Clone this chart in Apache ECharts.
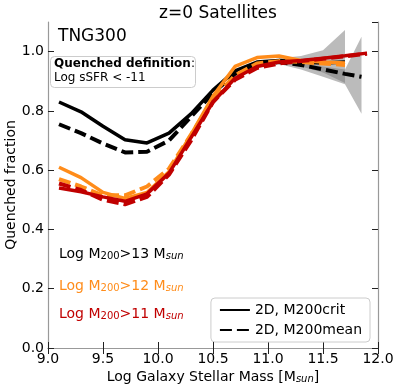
<!DOCTYPE html>
<html>
<head>
<meta charset="utf-8">
<script src="https://cdn.jsdelivr.net/npm/echarts@6/dist/echarts.min.js"></script>
<style>
  html, body { margin: 0; padding: 0; background: #fff; }
  #main { width: 399px; height: 388px; }
</style>
</head>
<body>
<div id="main"></div>
<script>
// stellar mass bins (log Msun)
var massBins = [9.1, 9.3, 9.5, 9.7, 9.9, 10.1, 10.3, 10.5, 10.7, 10.9, 11.1, 11.3, 11.5, 11.7, 11.9];

// quenched fractions
var m13Crit = [0.83, 0.797, 0.748, 0.703, 0.692, 0.725, 0.79, 0.87, 0.935, 0.965, 0.97, 0.965, 0.962, 0.965];
var m13Mean = [0.755, 0.725, 0.69, 0.66, 0.662, 0.70, 0.78, 0.86, 0.925, 0.955, 0.965, 0.955, 0.94, 0.925, 0.915];
var m12Crit = [0.61, 0.575, 0.525, 0.505, 0.525, 0.595, 0.72, 0.85, 0.95, 0.98, 0.985, 0.97, 0.965, 0.962];
var m12Mean = [0.57, 0.545, 0.515, 0.515, 0.545, 0.605, 0.72, 0.84, 0.92, 0.96, 0.968, 0.965, 0.96, 0.955];
var m11Crit = [0.54, 0.527, 0.51, 0.495, 0.52, 0.59, 0.71, 0.83, 0.91, 0.95, 0.965, 0.97, 0.978, 0.986, 0.995];
var m11Mean = [0.555, 0.533, 0.50, 0.485, 0.51, 0.585, 0.70, 0.83, 0.905, 0.945, 0.96, 0.968, 0.976, 0.984, 0.993];

// error bands for the M200>13 lines
var critBandX = [11.1, 11.3, 11.5, 11.7];
var critBandHi = [0.978, 0.985, 1.005, 1.073];
var critBandLo = [0.962, 0.95, 0.93, 0.894];
var meanBandX = [11.1, 11.3, 11.5, 11.7, 11.85];
var meanBandHi = [0.97, 0.962, 0.95, 0.94, 1.05];
var meanBandLo = [0.958, 0.94, 0.915, 0.89, 0.79];

function pairs(ys, xs) {
    xs = xs || massBins;
    return ys.map(function(y, i) { return [xs[i], y]; });
}

function band(xs, hi, lo) {
    return {
        type: 'custom',
        silent: true,
        z: 1,
        data: [0],
        renderItem: function(params, api) {
            var pts = [];
            for (var i = 0; i < xs.length; i++) pts.push(api.coord([xs[i], hi[i]]));
            for (var j = xs.length - 1; j >= 0; j--) pts.push(api.coord([xs[j], lo[j]]));
            return {
                type: 'polygon',
                shape: { points: pts },
                style: { fill: 'rgba(120,120,120,0.5)' }
            };
        }
    };
}

function line(name, ys, color, dashed, xs) {
    return {
        name: name,
        type: 'line',
        data: pairs(ys, xs),
        symbol: 'none',
        z: 3,
        lineStyle: { color: color, width: dashed ? 4 : 3.5, type: dashed ? [12, 5] : 'solid' },
        itemStyle: { color: color }
    };
}

var myChart = echarts.init(document.getElementById('main'));

var font = 'DejaVu Sans';
var orange = '#ff8c1a';
var red = '#c00000';

function massLabel(text, color) {
    return {
        type: 'text',
        left: 59,
        style: {
            text: '{a|Log M}{s|200}{a|' + text + ' M}{i|sun}',
            fill: color,
            rich: {
                a: { fontSize: 14, fontFamily: font, fill: color, lineHeight: 18, verticalAlign: 'bottom' },
                s: { fontSize: 10, fontFamily: font, fill: color, lineHeight: 13, verticalAlign: 'bottom' },
                i: { fontSize: 10, fontFamily: font, fontStyle: 'italic', fill: color, lineHeight: 13, verticalAlign: 'bottom' }
            }
        }
    };
}

var tickStyle = { inside: true, length: 6, lineStyle: { color: '#222' } };
var spine = { lineStyle: { color: '#999', width: 1.2 } };

option = {
    animation: false,
    textStyle: { fontFamily: font },
    title: {
        text: 'z=0 Satellites',
        left: 213,
        textAlign: 'center',
        top: 0,
        textStyle: { fontSize: 17, fontWeight: 'normal', color: '#000', fontFamily: font }
    },
    grid: { left: 48, right: 21, top: 22, bottom: 40, containLabel: false, outerBoundsMode: 'none' },
    legend: {
        data: ['2D, M200crit', '2D, M200mean'],
        orient: 'vertical',
        right: 29,
        bottom: 46,
        itemWidth: 30,
        itemHeight: 10,
        itemGap: 6,
        padding: [5, 8, 5, 8],
        borderColor: '#ccc',
        borderWidth: 1,
        borderRadius: 4,
        backgroundColor: '#fff',
        itemStyle: { opacity: 0 },
        textStyle: { fontSize: 14, color: '#000', fontFamily: font }
    },
    xAxis: [{
        type: 'value',
        min: 9.0,
        max: 12.0,
        interval: 0.5,
        name: '{a|Log Galaxy Stellar Mass [M}{i|sun}{a|]}',
        nameLocation: 'middle',
        nameGap: 18,
        nameMoveOverlap: false,
        nameTextStyle: {
            rich: {
                a: { fontSize: 14, fontFamily: font, color: '#000', lineHeight: 18, verticalAlign: 'bottom' },
                i: { fontSize: 10, fontFamily: font, fontStyle: 'italic', color: '#000', lineHeight: 13, verticalAlign: 'bottom' }
            }
        },
        axisLine: spine,
        axisTick: tickStyle,
        axisLabel: { fontSize: 14, color: '#000', margin: 4, fontFamily: font,
            formatter: function(v) { return v.toFixed(1); } },
        splitLine: { show: false }
    }, {
        type: 'value',
        position: 'top',
        min: 9.0,
        max: 12.0,
        interval: 0.5,
        axisLine: spine,
        axisTick: tickStyle,
        axisLabel: { show: false },
        splitLine: { show: false }
    }],
    yAxis: [{
        type: 'value',
        min: 0,
        max: 1.1,
        interval: 0.2,
        name: 'Quenched fraction',
        nameLocation: 'middle',
        nameGap: 30,
        nameMoveOverlap: false,
        nameTextStyle: { fontSize: 14, color: '#000', fontFamily: font },
        axisLine: spine,
        axisTick: tickStyle,
        axisLabel: { fontSize: 14, color: '#000', margin: 4, fontFamily: font, showMaxLabel: false,
            formatter: function(v) { return v.toFixed(1); } },
        splitLine: { show: false }
    }, {
        type: 'value',
        position: 'right',
        min: 0,
        max: 1.1,
        interval: 0.2,
        axisLine: spine,
        axisTick: tickStyle,
        axisLabel: { show: false },
        splitLine: { show: false }
    }],
    graphic: [
        {
            type: 'text',
            left: 58,
            top: 28,
            style: { text: 'TNG300', fontSize: 17, fontFamily: font, fill: '#000' }
        },
        {
            type: 'rect',
            left: 50,
            top: 56,
            shape: { width: 145, height: 31, r: 4 },
            style: { fill: '#fff', stroke: '#ccc', lineWidth: 1 },
            z: 10
        },
        {
            type: 'text',
            left: 54,
            top: 58,
            z: 11,
            style: {
                text: '{b|Quenched definition}{n|:}\n{n|Log sSFR < -11}',
                rich: {
                    b: { fontSize: 12, fontWeight: 'bold', fontFamily: font, fill: '#000', lineHeight: 14 },
                    n: { fontSize: 12, fontFamily: font, fill: '#000', lineHeight: 14 }
                }
            }
        },
        Object.assign(massLabel('>13', '#000'), { top: 247 }),
        Object.assign(massLabel('>12', orange), { top: 279 }),
        Object.assign(massLabel('>11', red), { top: 307 })
    ],
    series: [
        band(critBandX, critBandHi, critBandLo),
        band(meanBandX, meanBandHi, meanBandLo),
        line('2D, M200crit', m13Crit, '#000', false),
        line('2D, M200mean', m13Mean, '#000', true, massBins.slice(0, 14).concat([11.85])),
        line('m12crit', m12Crit, orange, false),
        line('m12mean', m12Mean, orange, true),
        line('m11crit', m11Crit, red, false),
        line('m11mean', m11Mean, red, true)
    ]
};

myChart.setOption(option);
</script>
</body>
</html>
